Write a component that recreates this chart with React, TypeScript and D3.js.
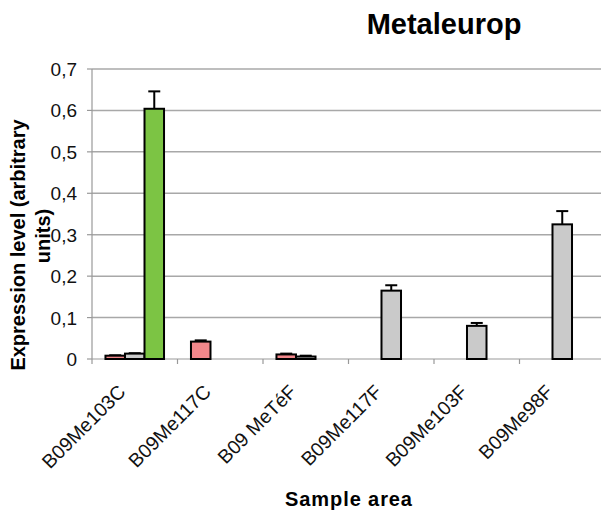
import React from "react";
import * as d3 from "d3";

const categories = ["B09Me103C", "B09Me117C", "B09 MeTéF", "B09Me117F", "B09Me103F", "B09Me98F"];
const seriesNames = ["S1", "S2", "S3"];
const pinkValues = [0.008, 0.042, 0.011, 0, 0, 0];
const pinkErrors = [0.001, 0.003, 0.002, 0, 0, 0];
const grayValues = [0.013, 0, 0.006, 0.165, 0.08, 0.325];
const grayErrors = [0.001, 0, 0.002, 0.013, 0.007, 0.032];
const greenValues = [0.604, 0, 0, 0, 0, 0];
const greenErrors = [0.042, 0, 0, 0, 0, 0];
const yTicks = [0, 0.1, 0.2, 0.3, 0.4, 0.5, 0.6, 0.7];

const W = 601;
const H = 510;
const left = 92;
const right = 605;
const top = 69;
const bottom = 359;
const FONT = "'Liberation Sans', Arial, sans-serif";

export default function App() {
  const x0 = d3.scaleBand<string>().domain(categories).range([left, right]).padding(0);
  const x1 = d3
    .scaleBand<string>()
    .domain(seriesNames)
    .range([0, x0.bandwidth()])
    .paddingInner(0)
    .paddingOuter(0.69);
  const y = d3.scaleLinear().domain([0, 0.7]).range([bottom, top]);
  const fmt = (v: number) => (v === 0 ? "0" : d3.format(".1f")(v).replace(".", ","));

  const series = [
    { name: "S1", values: pinkValues, errors: pinkErrors, color: "#f2878b" },
    { name: "S2", values: grayValues, errors: grayErrors, color: "#cacaca" },
    { name: "S3", values: greenValues, errors: greenErrors, color: "#7cc444" },
  ];

  const boundaries = d3.range(categories.length + 1).map((i) => left + i * x0.step());

  return (
    <svg
      width={W}
      height={H}
      style={{ position: "absolute", left: 0, top: 0, background: "#fff" }}
    >
      {/* title */}
      <text x={444} y={34} textAnchor="middle" fontFamily={FONT} fontWeight="bold" fontSize={29}>
        Metaleurop
      </text>
      {/* grid */}
      {yTicks.slice(1).map((t) => (
        <line key={t} x1={left} x2={W} y1={y(t)} y2={y(t)} stroke="#a8a8a8" strokeWidth={1.5} />
      ))}
      {/* y axis */}
      <line x1={left} x2={left} y1={top} y2={bottom} stroke="#999" strokeWidth={1.2} />
      {yTicks.map((t) => (
        <g key={t}>
          <line x1={left - 5} x2={left} y1={y(t)} y2={y(t)} stroke="#999" strokeWidth={1.2} />
          <text
            x={77}
            y={y(t) + 7}
            textAnchor="end"
            fontFamily={FONT}
            fontSize={19}
            fill="#111"
          >
            {fmt(t)}
          </text>
        </g>
      ))}
      {/* x axis */}
      <line x1={left} x2={W} y1={bottom} y2={bottom} stroke="#999" strokeWidth={1.2} />
      {boundaries.map((bx, i) => (
        <line key={i} x1={bx} x2={bx} y1={bottom} y2={bottom + 5} stroke="#999" strokeWidth={1.2} />
      ))}
      {/* bars */}
      <g>
        {series.map((s) =>
          categories.map((c, i) => {
            const v = s.values[i];
            if (!v) return null;
            const bx = (x0(c) ?? 0) + (x1(s.name) ?? 0);
            const bw = x1.bandwidth();
            const cx = bx + bw / 2;
            const errTop = y(v + s.errors[i]);
            return (
              <g key={s.name + c}>
                <line x1={cx} x2={cx} y1={y(v)} y2={errTop} stroke="#000" strokeWidth={2} />
                <line x1={cx - 6} x2={cx + 6} y1={errTop} y2={errTop} stroke="#000" strokeWidth={2} />
                <rect
                  x={bx}
                  y={y(v)}
                  width={bw}
                  height={bottom - y(v)}
                  fill={s.color}
                  stroke="#000"
                  strokeWidth={2}
                />
              </g>
            );
          })
        )}
      </g>
      {/* x labels */}
      {categories.map((c) => {
        const cx = (x0(c) ?? 0) + x0.bandwidth() / 2 - 8;
        return (
          <text
            key={c}
            transform={`translate(${cx},${393}) rotate(-45)`}
            textAnchor="end"
            fontFamily={FONT}
            fontSize={19.5}
            fill="#111"
          >
            {c}
          </text>
        );
      })}
      {/* axis titles */}
      <text
        x={349}
        y={506}
        textAnchor="middle"
        fontFamily={FONT}
        fontWeight="bold"
        fontSize={20}
        letterSpacing={0.9}
      >
        Sample area
      </text>
      <text
        transform={`translate(25,245) rotate(-90)`}
        textAnchor="middle"
        fontFamily={FONT}
        fontWeight="bold"
        fontSize={20}
      >
        Expression level (arbitrary
      </text>
      <text
        transform={`translate(50,236) rotate(-90)`}
        textAnchor="middle"
        fontFamily={FONT}
        fontWeight="bold"
        fontSize={20}
      >
        units)
      </text>
    </svg>
  );
}
